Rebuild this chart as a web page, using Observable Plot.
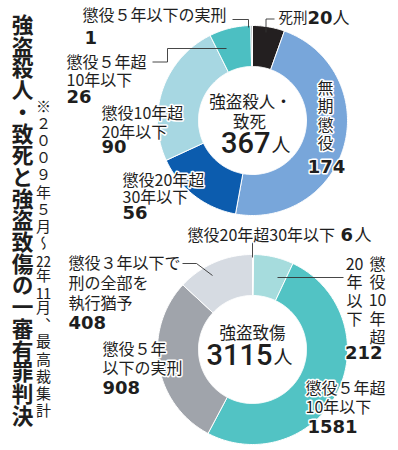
<!DOCTYPE html>
<html><head><meta charset="utf-8">
<script src="https://cdn.jsdelivr.net/npm/d3@7"></script>
<script src="https://cdn.jsdelivr.net/npm/@observablehq/plot@0.6"></script>
<style>
body{margin:0;background:#fff;}
#wrap{position:relative;width:398px;height:450px;overflow:hidden;font-family:"Noto Sans CJK JP",sans-serif;color:#1e1e1e;}
#wrap svg{position:absolute;left:0;top:0;}
#title{position:absolute;left:11px;top:14px;writing-mode:vertical-rl;font-size:21.7px;line-height:22px;font-weight:bold;letter-spacing:0;white-space:nowrap;}
#note{position:absolute;left:35px;top:99px;writing-mode:vertical-rl;font-size:15px;line-height:16px;letter-spacing:2.1px;white-space:nowrap;}
.tcy{text-combine-upright:all;}
</style>
</head><body>
<div id="wrap">
<div id="title">強盗殺人・致死と強盗致傷の一審有罪判決</div>
<div id="note">※２００９年５月〜<span class="tcy">22</span>年<span class="tcy">11</span>月、最高裁集計</div>
</div>
<script>
// ---- data ----
const murderCategories = ["死刑","無期懲役","懲役20年超30年以下","懲役10年超20年以下","懲役5年超10年以下","懲役5年以下の実刑"];
const murderValues = [20,174,56,90,26,1];
const murderTotal = 367;
const injuryCategories = ["懲役20年超30年以下","懲役10年超20年以下","懲役5年超10年以下","懲役5年以下の実刑","懲役3年以下で刑の全部を執行猶予"];
const injuryValues = [6,212,1581,908,408];
const injuryTotal = 3115;
const donutNames = ["強盗殺人・致死","強盗致傷"];

// ---- styles / layout ----
const murderColors = ["#231f20","#78a6da","#0c5cae","#a7d7e2","#4cbfc2","#9aa0a8"];
const injuryColors = ["#a7d7e2","#a6dcdd","#52c3c4","#a0a4ab","#d6dbe2"];
const R_OUT = 95, R_IN = 54;
const centers = [[252,120],[252,349]];
const JP = "'Noto Sans CJK JP', sans-serif";
const NUM = "'DejaVu Sans', sans-serif";
const BIG = "Roboto, 'Liberation Sans', sans-serif";

const donuts = [
  {cats: murderCategories, vals: murderValues, colors: murderColors},
  {cats: injuryCategories, vals: injuryValues, colors: injuryColors}
];

const arcPts = [], colorDomain = [], colorRange = [];
donuts.forEach((d, di) => {
  const [cx, cy] = centers[di];
  const arcs = d3.pie().sort(null).value(v => v)(d.vals);
  arcs.forEach((p, i) => {
    const key = donutNames[di] + "|" + d.cats[i];
    colorDomain.push(key); colorRange.push(d.colors[i]);
    const a0 = p.startAngle, a1 = p.endAngle;
    const n = Math.max(2, Math.ceil((a1 - a0) / (Math.PI / 180)));
    const pts = [];
    for (let k = 0; k <= n; k++) { const a = a0 + (a1 - a0) * k / n; pts.push([cx + R_OUT * Math.sin(a), cy - R_OUT * Math.cos(a)]); }
    for (let k = n; k >= 0; k--) { const a = a0 + (a1 - a0) * k / n; pts.push([cx + R_IN * Math.sin(a), cy - R_IN * Math.cos(a)]); }
    pts.push(pts[0]);
    pts.forEach(([x, y]) => arcPts.push({key, x, y}));
  });
});

const jpLabels = [
  {t:"懲役５年以下の実刑", x:82, y:15},
  {t:"死刑", x:278, y:18, s:14.5},
  {t:"人", x:332, y:18, s:17},
  {t:"懲役５年超", x:66, y:62},
  {t:"10年以下", x:66, y:80},
  {t:"懲役10年超", x:101, y:113},
  {t:"20年以下", x:101, y:132},
  {t:"懲役20年超", x:122, y:180},
  {t:"30年以下", x:122, y:197},
  {t:"懲役20年超30年以下", x:187, y:235},
  {t:"人", x:354, y:235, s:17},
  {t:"懲役３年以下で", x:68, y:263},
  {t:"刑の全部を", x:68, y:283},
  {t:"執行猶予", x:68, y:303},
  {t:"懲役５年", x:102, y:349},
  {t:"以下の実刑", x:102, y:368},
  {t:"懲役５年超", x:305, y:388},
  {t:"10年以下", x:305, y:407}
];
const vertLabels = [
  {t:"無\n期\n懲\n役", x:325, y:115},
  {t:"懲\n役\n10\n年\n超", x:377, y:300},
  {t:"20\n年\n以\n下", x:354, y:291}
];
const numStart = [
  {t:String(murderValues[5]), x:84, y:38},
  {t:String(murderValues[0]), x:307, y:18},
  {t:String(murderValues[4]), x:66, y:97},
  {t:String(murderValues[3]), x:101, y:147},
  {t:String(murderValues[2]), x:122, y:213},
  {t:String(injuryValues[0]), x:340, y:235},
  {t:String(injuryValues[4]), x:68, y:323},
  {t:String(injuryValues[3]), x:102, y:388},
  {t:String(injuryValues[2]), x:307, y:427}
];
const numMiddle = [
  {t:String(murderValues[1]), x:326, y:167}
];
const numEnd = [
  {t:String(injuryValues[1]), x:382, y:353}
];
const centerLabels = [
  {t:"強盗殺人・", x:250, y:102},
  {t:"致死", x:249, y:122},
  {t:"強盗致傷", x:252, y:333}
];
const totalLabels = [
  {t:String(murderTotal), x:270, y:143},
  {t:String(injuryTotal), x:272, y:355}
];
const totalUnit = [
  {t:"人", x:271, y:145},
  {t:"人", x:273, y:357}
];
const leaders = [
  [[232,19],[248,19],[248,27]],
  [[265.5,32],[265.5,18.5],[274,18.5]],
  [[152,61.5],[167,61.5],[167,48],[226,48]],
  [[252,242],[252,257]],
  [[182,263],[196,263],[212,275]],
  [[277,277],[343,277]]
].flatMap((pts, i) => pts.map(([x, y]) => ({id: i, x, y})));

const halo = {stroke:"white", strokeWidth:3, paintOrder:"stroke", fill:"#1e1e1e"};
const numStyle = {x:"x", y:"y", text:"t", fontSize:18, fontWeight:"bold", fontFamily:NUM, ...halo};

const chart = Plot.plot({
  width: 398, height: 450, margin: 0,
  x: {domain: [0, 398], range: [0, 398], axis: null},
  y: {domain: [0, 450], range: [0, 450], axis: null},
  color: {type: "ordinal", domain: colorDomain, range: colorRange},
  style: {background: "transparent", fontFamily: JP},
  marks: [
    Plot.line(arcPts, {x:"x", y:"y", z:"key", fill:"key", stroke:"white", strokeWidth:1, curve:"linear"}),
    Plot.line(leaders, {x:"x", y:"y", z:"id", stroke:"#333", strokeWidth:0.9, curve:"linear", strokeLinecap:"butt", strokeLinejoin:"miter"}),
    Plot.text(jpLabels, {x:"x", y:"y", text:"t", textAnchor:"start", fontSize:d => d.s ?? 16, fontFamily:JP, ...halo}),
    Plot.text(vertLabels, {x:"x", y:"y", text:"t", textAnchor:"middle", fontSize:16, lineHeight:1.15, fontFamily:JP, ...halo}),
    Plot.text(numStart, {...numStyle, textAnchor:"start"}),
    Plot.text(numMiddle, {...numStyle, textAnchor:"middle"}),
    Plot.text(numEnd, {...numStyle, textAnchor:"end"}),
    Plot.text(centerLabels, {x:"x", y:"y", text:"t", textAnchor:"middle", fontSize:16.5, fontFamily:JP, fill:"#1e1e1e"}),
    Plot.text(totalLabels, {x:"x", y:"y", text:"t", textAnchor:"end", fontSize:29, fontWeight:500, fontFamily:BIG, fill:"#1e1e1e"}),
    Plot.text(totalUnit, {x:"x", y:"y", text:"t", textAnchor:"start", fontSize:19, fontFamily:JP, fill:"#1e1e1e"})
  ]
});
document.getElementById("wrap").prepend(chart);
</script>
</body></html>
